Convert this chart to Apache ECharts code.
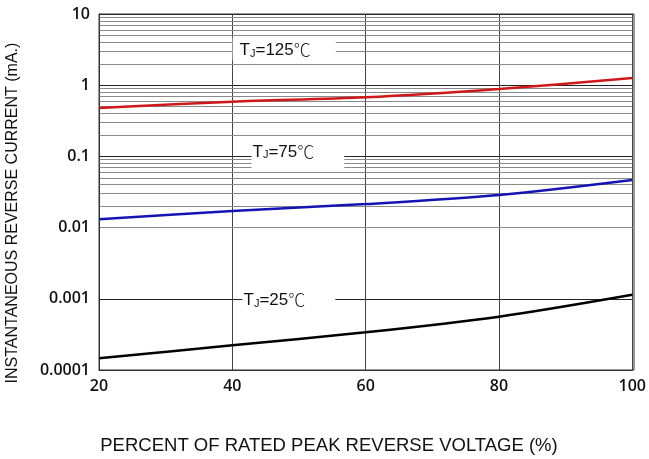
<!DOCTYPE html>
<html><head><meta charset="utf-8">
<script src="https://cdn.jsdelivr.net/npm/echarts@6/dist/echarts.min.js"></script>
<style>html,body{margin:0;padding:0;background:#fff}#c{width:649px;height:459px}</style>
</head><body><div id="c"></div>
<script>
const xValues = [20, 40, 60, 80, 100];
const tj125 = [0.478, 0.586, 0.676, 0.885, 1.26];
const tj75 = [0.0131, 0.0171, 0.0214, 0.0287, 0.0467];
const tj25 = [0.000146, 0.000222, 0.000338, 0.000561, 0.00114];
const yTickLabels = ['0.0001', '0.001', '0.01', '0.1', '1', '10'];
const xTickLabels = ['20', '40', '60', '80', '100'];
const curveNames = ['125', '75', '25'];
const labelAnchors = [[40.04, 3.22], [42.88, 0.11], [41.53, 0.000859]];

const minorValues = [];
for (let e = -4; e < 1; e++) {
  for (let m = 2; m <= 9; m++) minorValues.push(m * Math.pow(10, e));
}

const chart = echarts.init(document.getElementById('c'));
const fontFam = '"Liberation Sans", Arial, sans-serif';
const tickFam = '"Open Sans", sans-serif';

function labelPoint(idx, pad) {
  return {
    symbol: 'rect', symbolSize: 0, silent: true,
    data: [{ coord: labelAnchors[idx] }],
    label: {
      show: true, position: 'right', distance: 0,
      backgroundColor: '#fff', padding: pad,
      formatter: '{t|T}{s|J}{t|=' + curveNames[idx] + '}{c|℃}',
      rich: {
        t: { fontSize: 17, fontFamily: fontFam, color: '#111', lineHeight: 19 },
        s: { fontSize: 11, fontFamily: fontFam, color: '#111', lineHeight: 19, padding: [7, 0, 0, 0] },
        c: { fontSize: 17, fontFamily: '"Noto Sans CJK SC", sans-serif', fontWeight: 300, color: '#222', lineHeight: 19 }
      }
    }
  };
}

function pairs(arr) { return xValues.map((x, i) => [x, arr[i]]); }

chart.setOption({
  animation: false,
  grid: { left: 99, right: 15, top: 14, bottom: 89, show: false },
  xAxis: {
    type: 'value', min: 20, max: 100, interval: 20,
    axisLine: { show: true, onZero: false, lineStyle: { color: '#333', width: 1 } },
    axisTick: { show: false },
    axisLabel: {
      margin: 8, fontSize: 16, fontWeight: 600, fontFamily: tickFam, color: '#111',
      formatter: v => xTickLabels[xValues.indexOf(v)] || ''
    },
    splitLine: { show: true, lineStyle: { color: '#444', width: 1 } }
  },
  yAxis: {
    type: 'log', logBase: 10, min: 0.0001, max: 10,
    axisLine: { show: true, lineStyle: { color: '#333', width: 1 } },
    axisTick: { show: false },
    axisLabel: {
      margin: 9, fontSize: 16, fontWeight: 600, fontFamily: tickFam, color: '#111',
      formatter: v => yTickLabels[Math.round(Math.log10(v)) + 4] || ''
    },
    splitLine: { show: true, lineStyle: { color: '#222', width: 1 } }
  },
  graphic: [
    { type: 'rect', shape: { x: 99, y: 14, width: 535, height: 356 }, style: { fill: 'none', stroke: '#333', lineWidth: 1 }, z: 100, silent: true },
    { type: 'text', x: 13, y: 213, rotation: Math.PI / 2,
      style: { text: 'INSTANTANEOUS REVERSE CURRENT (mA.)', font: '16px ' + fontFam, fill: '#111', align: 'center', verticalAlign: 'middle' } },
    { type: 'text', x: 329, y: 446,
      style: { text: 'PERCENT OF RATED PEAK REVERSE VOLTAGE (%)', font: '18.5px ' + fontFam, fill: '#111', align: 'center', verticalAlign: 'middle' } }
  ],
  series: [
    {
      type: 'line', data: [], z: 1, silent: true,
      markLine: {
        silent: true, symbol: 'none', label: { show: false },
        lineStyle: { color: '#8a8a8a', width: 1, type: 'solid' },
        data: minorValues.map(v => ({ yAxis: v }))
      }
    },
    { name: 'TJ=125', type: 'line', data: pairs(tj125), showSymbol: false, smooth: 0.3, z: 5,
      lineStyle: { color: '#d01818', width: 2.5 }, markPoint: labelPoint(0, [3, 25, 1, 7]) },
    { name: 'TJ=75', type: 'line', data: pairs(tj75), showSymbol: false, smooth: 0.3, z: 5,
      lineStyle: { color: '#1414b4', width: 2.5 }, markPoint: labelPoint(1, [4, 30, 7, 1]) },
    { name: 'TJ=25', type: 'line', data: pairs(tj25), showSymbol: false, smooth: 0.3, z: 5,
      lineStyle: { color: '#000', width: 2.5 }, markPoint: labelPoint(2, [1, 30, 8, 1]) }
  ]
});
</script></body></html>
